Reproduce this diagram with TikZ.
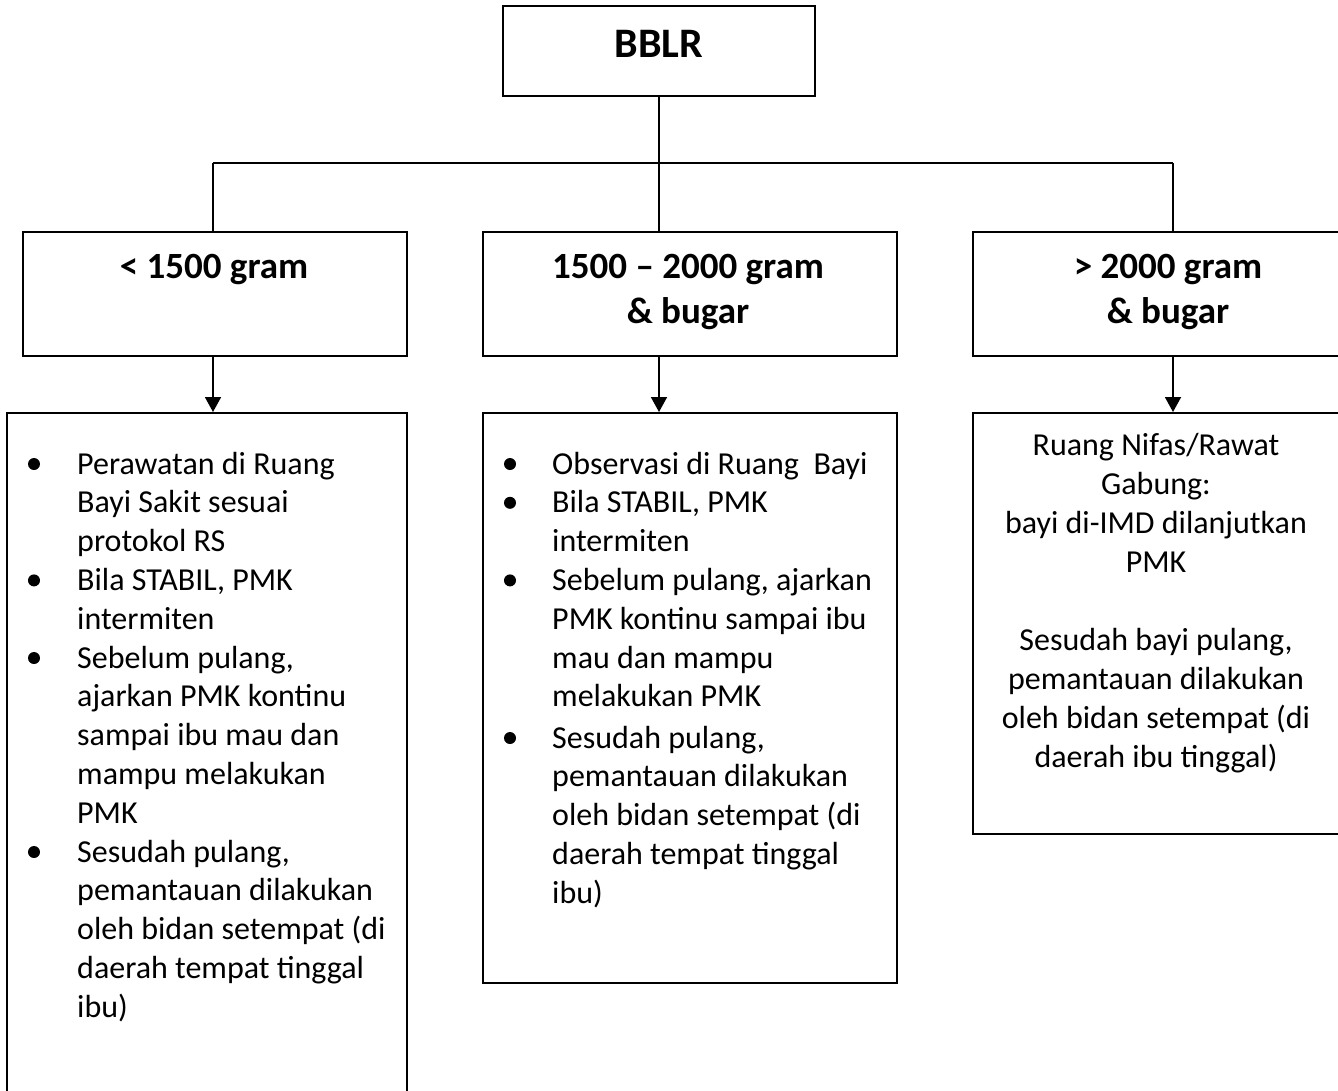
\documentclass[tikz,border=0pt]{standalone}
\usepackage{fontspec}
\setmainfont{Carlito}
\usetikzlibrary{arrows.meta}
\begin{document}
\begin{tikzpicture}[x=1pt,y=-1pt,
  boxstyle/.style={draw,line width=2pt,rectangle,inner sep=0pt},
  conn/.style={line width=1.8pt},
  arr/.style={line width=1.8pt,-{Triangle[length=15pt,width=16pt]}},
  ttl/.style={font=\fontsize{37}{45}\selectfont\bfseries,inner sep=0pt,anchor=base},
  bodyl/.style={font=\fontsize{32}{39}\selectfont,inner sep=0pt,anchor=base west},
  bodyc/.style={font=\fontsize{32}{39}\selectfont,inner sep=0pt,anchor=base},
  bul/.style={circle,fill=black,inner sep=0pt,minimum size=12pt}]
\useasboundingbox (0,0) rectangle (1338,1090);
\clip (0,0) rectangle (1338,1090);
\fill[white] (0,0) rectangle (1338,1090);

% boxes
\node[boxstyle,minimum width=312pt,minimum height=90pt] (top) at (659,51) {};
\node[boxstyle,minimum width=384pt,minimum height=124pt] (l2) at (215,294) {};
\node[boxstyle,minimum width=414pt,minimum height=124pt] (m2) at (690,294) {};
\node[boxstyle,minimum width=400pt,minimum height=124pt] (r2) at (1173,294) {};
\node[boxstyle,minimum width=400pt,minimum height=717pt] (l3) at (207,771.5) {};
\node[boxstyle,minimum width=414pt,minimum height=570pt] (m3) at (690,698) {};
\node[boxstyle,minimum width=400pt,minimum height=421pt] (r3) at (1173,623.5) {};

% titles
\node[ttl,font=\fontsize{42}{50}\selectfont\bfseries] (tbblr) at (659,57) {BBLR};
\node[ttl] (tl1) at (214,278) {< 1500 gram};
\node[ttl] (tm1) at (688,278) {1500 – 2000 gram};
\node[ttl] (tm2) at (688,323) {\& bugar};
\node[ttl] (tr1) at (1168,278) {> 2000 gram};
\node[ttl] (tr2) at (1168,323) {\& bugar};

% connectors
\coordinate (busL) at (213,163);
\coordinate (busR) at (1173,163);
\draw[conn] (top.south) -- (top.south |- m2.north);
\draw[conn] (busL) -- (busR);
\draw[conn] (busL) -- (busL |- l2.north);
\draw[conn] (busR) -- (busR |- r2.north);
\draw[arr] (busL |- l2.south) -- (busL |- l3.north);
\draw[arr] (top.south |- m2.south) -- (top.south |- m3.north);
\draw[arr] (busR |- r2.south) -- (busR |- r3.north);

% left box text
\foreach \t [count=\i from 0] in {Perawatan di Ruang,Bayi Sakit sesuai,protokol RS,{Bila STABIL, PMK},intermiten,{Sebelum pulang,},ajarkan PMK kontinu,sampai ibu mau dan,mampu melakukan,PMK,{Sesudah pulang,},pemantauan dilakukan,oleh bidan setempat (di,daerah tempat tinggal,ibu)}
  \node[bodyl] (lt\i) at (77,474+\i*38.8) {\t};
\foreach \i in {0,3,5,10}
  \node[bul] (lb\i) at (34,464+\i*38.8) {};

% middle box text
\foreach \t [count=\i from 0] in {Observasi di Ruang\ \ Bayi,{Bila STABIL, PMK},intermiten,{Sebelum pulang, ajarkan},PMK kontinu sampai ibu,mau dan mampu,melakukan PMK}
  \node[bodyl] (mt\i) at (552,474+\i*38.8) {\t};
\foreach \t [count=\i from 0] in {{Sesudah pulang,},pemantauan dilakukan,oleh bidan setempat (di,daerah tempat tinggal,ibu)}
  \node[bodyl] (ms\i) at (552,748+\i*38.8) {\t};
\foreach \i in {0,1,3}
  \node[bul] (mb\i) at (510,464+\i*38.8) {};
\node[bul] (mb7) at (510,738) {};

% right box text
\foreach \t [count=\i from 0] in {Ruang Nifas/Rawat,Gabung:,bayi di-IMD dilanjutkan,PMK}
  \node[bodyc] (rt\i) at (1156,455+\i*39) {\t};
\foreach \t [count=\i from 0] in {{Sesudah bayi pulang,},pemantauan dilakukan,oleh bidan setempat (di,daerah ibu tinggal)}
  \node[bodyc] (rs\i) at (1156,650+\i*39) {\t};
\end{tikzpicture}
\end{document}
